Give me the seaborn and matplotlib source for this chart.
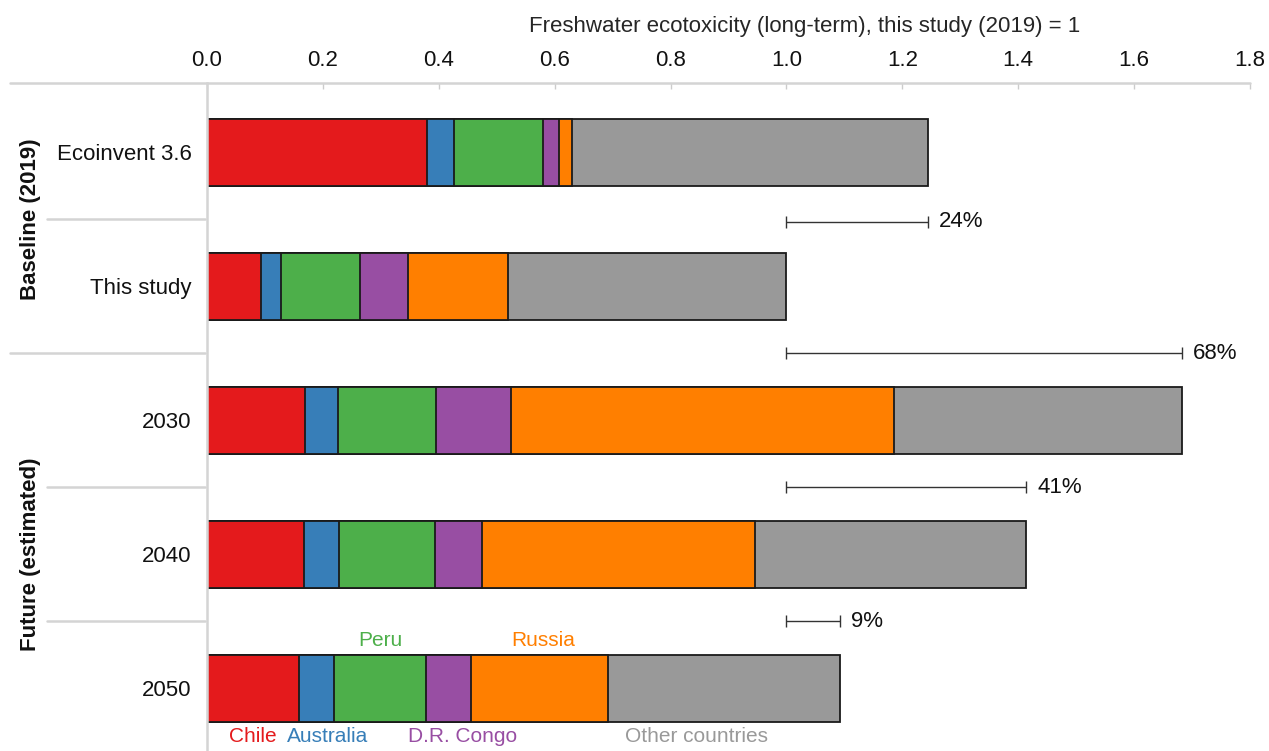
import pandas as pd
import matplotlib.pyplot as plt
import matplotlib.transforms as mtransforms
import seaborn as sns

# Values (relative to this study (2019) = 1)
scenarios = ['Ecoinvent 3.6', 'This study', '2030', '2040', '2050']
countries = ['Chile', 'Australia', 'Peru', 'D.R. Congo', 'Russia', 'Other countries']
chile = [0.379, 0.093, 0.169, 0.168, 0.158]
australia = [0.048, 0.035, 0.057, 0.060, 0.061]
peru = [0.153, 0.136, 0.170, 0.166, 0.159]
drcongo = [0.028, 0.083, 0.129, 0.081, 0.077]
russia = [0.022, 0.173, 0.661, 0.470, 0.237]
other = [0.614, 0.480, 0.497, 0.469, 0.400]
colors = ['#e41a1c', '#377eb8', '#4daf4a', '#984ea3', '#ff7f00', '#999999']

# bracket position relative to its bar (None = no bracket)
bracket_side = [0.52, None, -0.5, -0.5, -0.5]
groups = [('Baseline (2019)', 0.5), ('Future (estimated)', 3.0)]
xticks = [0.0, 0.2, 0.4, 0.6, 0.8, 1.0, 1.2, 1.4, 1.6, 1.8]
# small horizontal nudges for the country names under/over the last bar
label_nudge = [0.0, 0.019, 0.0, 0.024, 0.006, -0.047]

# long-form table with cumulative sums for stacking
values = [chile, australia, peru, drcongo, russia, other]
rows = []
for c, vals in zip(countries, values):
    for s, v in zip(scenarios, vals):
        rows.append({'scenario': s, 'country': c, 'value': v})
df = pd.DataFrame(rows)
df['cum'] = df.groupby('scenario', sort=False)['value'].cumsum()
totals = df.groupby('scenario', sort=False)['value'].sum().reindex(scenarios)

sns.set_theme(style='white')
plt.rcParams['font.family'] = ['Liberation Sans', 'DejaVu Sans']
plt.rcParams['font.size'] = 16

fig = plt.figure(figsize=(12.69, 7.51), dpi=100)
ax = fig.add_axes([207 / 1269, 0.0, 1043 / 1269, 1 - 83 / 751])

# draw cumulative bars from the largest down so segments overlap correctly
for c, col in reversed(list(zip(countries, colors))):
    sub = df[df['country'] == c]
    sns.barplot(data=sub, x='cum', y='scenario', order=scenarios, color=col,
                width=0.5, edgecolor='#1a1a1a', linewidth=1.3, errorbar=None,
                saturation=1, ax=ax)

ax.set_xlim(0, 1.8)
ax.set_ylim(4.47, -0.515)
ax.set_ylabel('')
ax.xaxis.tick_top()
ax.xaxis.set_label_position('top')
ax.set_xticks(xticks)
ax.set_xticklabels([f'{t:.1f}' for t in xticks])
ax.set_xlabel('Freshwater ecotoxicity (long-term), this study (2019) = 1',
              fontsize=16)
ax.xaxis.set_label_coords((805 - 207) / 1043, 1.076)
ax.tick_params(axis='x', direction='in', length=4, width=1, color='#cccccc',
               pad=9, labelsize=16, labelcolor='#111111')
ax.tick_params(axis='y', length=0, pad=11, labelsize=16, labelcolor='#111111')

for side in ['top', 'right', 'bottom']:
    ax.spines[side].set_visible(False)
ax.spines['left'].set_color('#d4d4d4')
ax.spines['left'].set_linewidth(1.8)

# table-like separator lines on the left, top rule across the figure
trans = mtransforms.blended_transform_factory(ax.transAxes, ax.transData)
ax.plot([-0.189, 1.0], [-0.515, -0.515], transform=trans, color='#d4d4d4',
        lw=1.8, clip_on=False)
for y, start in [(0.5, -0.153), (1.5, -0.189), (2.5, -0.153), (3.5, -0.153)]:
    ax.plot([start, -0.002], [y, y], transform=trans, color='#d4d4d4',
            lw=1.8, clip_on=False)

for label, y in groups:
    ax.text(-0.169, y, label, transform=trans, rotation=90, ha='center',
            va='center', fontsize=16, fontweight='bold', color='#111111')

# change brackets relative to this study (2019)
for i, s in enumerate(scenarios):
    if bracket_side[i] is None:
        continue
    tot = totals[s]
    y = i + bracket_side[i]
    ax.errorbar((1 + tot) / 2, y, xerr=(tot - 1) / 2, fmt='none',
                ecolor='#333333', elinewidth=1, capsize=4, capthick=1)
    ax.annotate(f'{round((tot - 1) * 100):.0f}%', (tot, y), xytext=(8, 0),
                textcoords='offset points', va='center', ha='left',
                fontsize=16, color='#111111')

# country labels around the last bar
last = scenarios[-1]
sub = df[df['scenario'] == last].reset_index(drop=True)
above = ['Peru', 'Russia']
for k, r in sub.iterrows():
    mid = r['cum'] - r['value'] / 2 + label_nudge[k]
    if r['country'] in above:
        ax.text(mid, 3.72, r['country'], ha='center', va='bottom',
                color=colors[k], fontsize=15)
    else:
        ax.text(mid, 4.29, r['country'], ha='center', va='top',
                color=colors[k], fontsize=15)

fig.savefig('out.png', dpi=100)
